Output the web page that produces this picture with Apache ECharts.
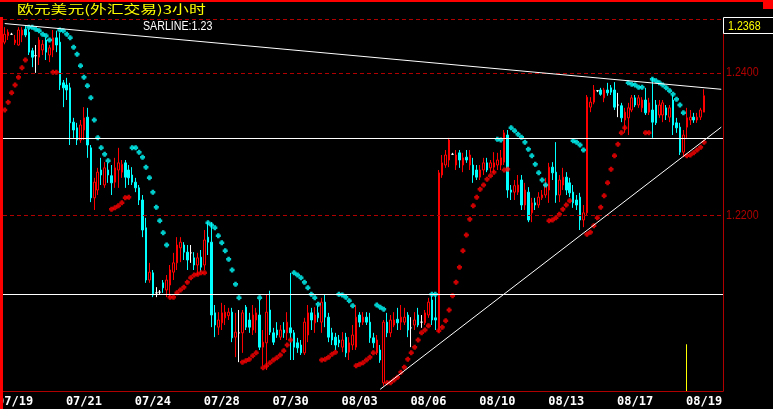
<!DOCTYPE html>
<html>
<head>
<meta charset="utf-8">
<title>欧元美元(外汇交易)3小时</title>
<script src="https://cdn.jsdelivr.net/npm/echarts@6/dist/echarts.min.js"></script>
<style>
  html, body { margin: 0; padding: 0; background: #000; }
  #chart { width: 773px; height: 409px; }
</style>
</head>
<body>
<div id="chart"></div>
<script>
// K线: [开, 收, 低, 高]
var ohlc = [
  [1.2443,1.2454,1.2440,1.2464],[1.2452,1.2457,1.2446,1.2461],[1.2454,1.2454,1.2453,1.2456],[1.2442,1.2446,1.2439,1.2453],
  [1.2439,1.2460,1.2438,1.2464],[1.2453,1.2460,1.2443,1.2464],[1.2461,1.2453,1.2450,1.2466],[1.2457,1.2429,1.2425,1.2461],
  [1.2431,1.2422,1.2408,1.2435],[1.2424,1.2424,1.2400,1.2439],[1.2422,1.2446,1.2411,1.2450],[1.2432,1.2440,1.2425,1.2446],
  [1.2446,1.2429,1.2418,1.2449],[1.2425,1.2435,1.2415,1.2439],[1.2432,1.2449,1.2422,1.2460],[1.2449,1.2439,1.2429,1.2459],
  [1.2443,1.2383,1.2376,1.2456],[1.2386,1.2379,1.2352,1.2390],[1.2383,1.2376,1.2362,1.2393],[1.2379,1.2330,1.2299,1.2386],
  [1.2331,1.2320,1.2309,1.2337],[1.2323,1.2306,1.2299,1.2330],[1.2306,1.2327,1.2302,1.2334],[1.2320,1.2337,1.2306,1.2352],
  [1.2338,1.2299,1.2281,1.2351],[1.2295,1.2225,1.2219,1.2299],[1.2225,1.2247,1.2208,1.2253],[1.2236,1.2261,1.2229,1.2267],
  [1.2264,1.2257,1.2243,1.2281],[1.2243,1.2267,1.2239,1.2275],[1.2264,1.2257,1.2246,1.2274],[1.2256,1.2246,1.2229,1.2271],
  [1.2247,1.2267,1.2239,1.2281],[1.2264,1.2274,1.2239,1.2295],[1.2261,1.2272,1.2253,1.2278],[1.2274,1.2254,1.2239,1.2278],
  [1.2264,1.2253,1.2243,1.2271],[1.2257,1.2247,1.2243,1.2268],[1.2247,1.2239,1.2233,1.2253],[1.2239,1.2222,1.2215,1.2243],
  [1.2222,1.2180,1.2170,1.2229],[1.2183,1.2110,1.2106,1.2197],[1.2110,1.2121,1.2106,1.2134],[1.2120,1.2089,1.2086,1.2124],
  [1.2092,1.2092,1.2086,1.2100],[1.2093,1.2093,1.2090,1.2096],[1.2106,1.2099,1.2092,1.2110],[1.2096,1.2110,1.2086,1.2117],
  [1.2103,1.2124,1.2086,1.2131],[1.2121,1.2134,1.2110,1.2148],[1.2134,1.2159,1.2124,1.2170],[1.2155,1.2163,1.2135,1.2170],
  [1.2159,1.2149,1.2138,1.2163],[1.2149,1.2138,1.2124,1.2159],[1.2148,1.2148,1.2134,1.2159],[1.2141,1.2131,1.2124,1.2149],
  [1.2131,1.2141,1.2117,1.2148],[1.2142,1.2128,1.2121,1.2152],[1.2131,1.2166,1.2124,1.2180],[1.2170,1.2163,1.2145,1.2191],
  [1.2163,1.2061,1.2044,1.2191],[1.2064,1.2047,1.2030,1.2075],[1.2044,1.2054,1.2033,1.2065],[1.2050,1.2064,1.2040,1.2078],
  [1.2057,1.2065,1.2047,1.2075],[1.2060,1.2065,1.2054,1.2071],[1.2065,1.2029,1.2023,1.2071],[1.2030,1.2037,1.2002,1.2064],
  [1.2036,1.2036,1.1995,1.2068],[1.2036,1.2064,1.2008,1.2068],[1.2072,1.2044,1.2040,1.2075],[1.2054,1.2044,1.2036,1.2064],
  [1.2040,1.2061,1.2033,1.2075],[1.2054,1.2064,1.2036,1.2071],[1.2061,1.2016,1.2012,1.2082],[1.2016,1.2023,1.1990,1.2040],
  [1.2022,1.2065,1.1984,1.2089],[1.2068,1.2037,1.2033,1.2095],[1.2036,1.2023,1.2019,1.2043],[1.2040,1.2033,1.2029,1.2051],
  [1.2030,1.2040,1.2026,1.2047],[1.2040,1.2036,1.2029,1.2051],[1.2036,1.2051,1.2026,1.2065],[1.2043,1.2036,1.1998,1.2120],
  [1.2036,1.2016,1.1998,1.2040],[1.2022,1.2015,1.2008,1.2029],[1.2019,1.2008,1.2005,1.2026],[1.2008,1.2051,1.2005,1.2057],
  [1.2033,1.2064,1.2023,1.2075],[1.2064,1.2054,1.2040,1.2071],[1.2050,1.2061,1.2036,1.2072],[1.2064,1.2057,1.2051,1.2074],
  [1.2051,1.2079,1.2036,1.2085],[1.2079,1.2058,1.2044,1.2089],[1.2058,1.2030,1.2023,1.2064],[1.2036,1.2026,1.2019,1.2043],
  [1.2030,1.2019,1.2012,1.2036],[1.2026,1.2022,1.2016,1.2033],[1.2016,1.2026,1.2009,1.2037],[1.2030,1.2008,1.2002,1.2036],
  [1.2009,1.2022,1.1998,1.2030],[1.2019,1.2033,1.2012,1.2047],[1.2016,1.2058,1.2012,1.2075],[1.2061,1.2051,1.2044,1.2065],
  [1.2051,1.2058,1.2047,1.2065],[1.2058,1.2051,1.2047,1.2065],[1.2051,1.2029,1.2022,1.2064],[1.2029,1.2022,1.2015,1.2036],
  [1.2008,1.2026,1.2005,1.2033],[1.2012,1.1998,1.1994,1.2019],[1.1966,1.2051,1.1962,1.2054],[1.2051,1.2036,1.2030,1.2064],
  [1.2036,1.2054,1.2030,1.2061],[1.2047,1.2054,1.2044,1.2065],[1.2055,1.2050,1.2040,1.2071],[1.2051,1.2058,1.2040,1.2075],
  [1.2051,1.2058,1.2047,1.2071],[1.2061,1.2040,1.2030,1.2065],[1.2043,1.2043,1.2016,1.2058],[1.2047,1.2054,1.2040,1.2065],
  [1.2061,1.2047,1.2044,1.2071],[1.2051,1.2051,1.2043,1.2061],[1.2050,1.2064,1.2047,1.2068],[1.2061,1.2079,1.2057,1.2085],
  [1.2082,1.2054,1.2047,1.2088],[1.2057,1.2054,1.2040,1.2088],[1.2040,1.2260,1.2037,1.2264],[1.2257,1.2274,1.2253,1.2285],
  [1.2271,1.2285,1.2267,1.2292],[1.2278,1.2306,1.2268,1.2309],[1.2286,1.2286,1.2285,1.2288],[1.2271,1.2285,1.2264,1.2292],
  [1.2288,1.2278,1.2267,1.2292],[1.2271,1.2281,1.2261,1.2288],[1.2282,1.2278,1.2274,1.2292],[1.2271,1.2285,1.2264,1.2292],
  [1.2271,1.2257,1.2246,1.2281],[1.2264,1.2254,1.2250,1.2271],[1.2254,1.2264,1.2250,1.2271],[1.2264,1.2274,1.2257,1.2281],
  [1.2274,1.2264,1.2261,1.2281],[1.2267,1.2274,1.2260,1.2278],[1.2268,1.2274,1.2260,1.2289],[1.2271,1.2278,1.2264,1.2288],
  [1.2271,1.2281,1.2264,1.2292],[1.2275,1.2316,1.2271,1.2320],[1.2313,1.2236,1.2225,1.2320],[1.2236,1.2233,1.2222,1.2243],
  [1.2233,1.2242,1.2222,1.2250],[1.2233,1.2243,1.2229,1.2257],[1.2250,1.2215,1.2208,1.2257],[1.2215,1.2236,1.2208,1.2246],
  [1.2233,1.2194,1.2191,1.2240],[1.2204,1.2218,1.2191,1.2225],[1.2218,1.2215,1.2208,1.2225],[1.2215,1.2226,1.2211,1.2233],
  [1.2225,1.2229,1.2222,1.2236],[1.2229,1.2243,1.2225,1.2253],[1.2236,1.2268,1.2218,1.2274],[1.2268,1.2260,1.2250,1.2275],
  [1.2261,1.2229,1.2218,1.2303],[1.2229,1.2250,1.2219,1.2257],[1.2243,1.2254,1.2236,1.2267],[1.2254,1.2236,1.2229,1.2261],
  [1.2246,1.2232,1.2226,1.2253],[1.2233,1.2218,1.2211,1.2243],[1.2222,1.2215,1.2208,1.2229],[1.2226,1.2194,1.2180,1.2232],
  [1.2194,1.2204,1.2184,1.2215],[1.2204,1.2366,1.2201,1.2369],[1.2352,1.2359,1.2345,1.2366],[1.2359,1.2376,1.2356,1.2383],
  [1.2375,1.2375,1.2373,1.2376],[1.2376,1.2370,1.2368,1.2379],[1.2365,1.2376,1.2359,1.2379],[1.2376,1.2372,1.2368,1.2386],
  [1.2379,1.2373,1.2369,1.2383],[1.2376,1.2352,1.2348,1.2387],[1.2355,1.2355,1.2338,1.2372],[1.2354,1.2337,1.2331,1.2358],
  [1.2334,1.2345,1.2316,1.2351],[1.2337,1.2351,1.2313,1.2358],[1.2348,1.2365,1.2345,1.2369],[1.2365,1.2355,1.2352,1.2369],
  [1.2355,1.2365,1.2351,1.2369],[1.2351,1.2362,1.2345,1.2366],[1.2362,1.2344,1.2341,1.2379],[1.2345,1.2358,1.2341,1.2365],
  [1.2348,1.2331,1.2309,1.2393],[1.2355,1.2330,1.2327,1.2362],[1.2341,1.2355,1.2337,1.2362],[1.2341,1.2358,1.2331,1.2362],
  [1.2351,1.2341,1.2334,1.2355],[1.2338,1.2351,1.2331,1.2355],[1.2362,1.2327,1.2313,1.2369],[1.2330,1.2323,1.2316,1.2337],
  [1.2324,1.2289,1.2285,1.2330],[1.2289,1.2313,1.2282,1.2320],[1.2324,1.2337,1.2309,1.2351],[1.2334,1.2338,1.2327,1.2348],
  [1.2338,1.2334,1.2330,1.2344],[1.2334,1.2338,1.2330,1.2344],[1.2338,1.2348,1.2334,1.2351],[1.2345,1.2368,1.2345,1.2377]
];

// 抛物线指标 SAR, 每根K线一个
var sar = [
  1.2348,1.2359,1.2372,1.2383,1.2394,1.2407,1.2418,
  1.2464,1.2464,1.2461,1.2459,1.2454,1.2452,1.2446,
  1.2401,1.2401,
  1.2460,1.2459,1.2454,1.2449,1.2436,1.2426,1.2410,1.2394,1.2382,1.2365,1.2334,1.2309,1.2295,1.2286,1.2277,
  1.2209,1.2211,1.2214,1.2218,1.2225,1.2226,
  1.2295,1.2295,1.2289,1.2282,1.2268,1.2253,1.2233,1.2212,1.2193,1.2176,1.2159,
  1.2086,1.2086,1.2092,1.2096,1.2100,1.2107,1.2113,1.2117,1.2118,1.2120,1.2120,
  1.2190,1.2187,1.2183,1.2172,1.2162,1.2151,1.2139,1.2124,1.2104,1.2085,
  1.1995,1.1997,1.1999,1.2004,1.2008,
  1.2085,
  1.1987,1.1990,1.1994,1.1998,1.2001,1.2005,1.2011,1.2019,1.2026,
  1.2120,1.2117,1.2113,1.2107,1.2099,1.2090,1.2085,1.2076,
  1.1998,1.1999,1.2002,1.2006,1.2009,
  1.2090,1.2089,1.2086,1.2081,1.2074,
  1.1990,1.1992,1.1994,1.1998,1.2002,1.2008,
  1.2075,1.2072,1.2069,
  1.1966,1.1966,1.1970,1.1974,1.1981,1.1988,1.1999,1.2008,1.2016,1.2026,1.2036,1.2040,1.2046,
  1.2090,1.2090,
  1.2039,1.2044,1.2053,1.2068,1.2088,1.2107,1.2128,1.2151,1.2173,1.2195,1.2214,1.2226,1.2237,1.2243,1.2251,1.2256,1.2261,
  1.2307,1.2306,
  1.2264,1.2265,
  1.2323,1.2319,1.2314,1.2310,1.2303,1.2293,1.2284,1.2272,1.2260,1.2250,1.2243,
  1.2193,1.2194,1.2197,1.2202,1.2209,1.2215,1.2221,
  1.2305,1.2303,1.2299,1.2292,
  1.2174,1.2177,1.2186,1.2197,1.2212,1.2228,1.2246,1.2265,1.2284,1.2300,1.2316,1.2323,
  1.2386,1.2384,1.2383,1.2380,1.2380,
  1.2316,1.2316,
  1.2391,1.2389,1.2386,1.2383,1.2379,1.2375,1.2370,1.2363,1.2355,1.2344,
  1.2284,1.2285,1.2288,1.2292,1.2296,1.2303
];

var tickLabels = ['07/19', '07/21', '07/24', '07/28', '07/30', '08/03', '08/06', '08/10', '08/13', '08/17', '08/19'];
var firstTickBar = 3;
var barsPerTick = 20;
var slotCount = 209; // 含右侧空白

var priceMin = 1.19546;
var priceMax = 1.24754;
var gridPrices = [1.22, 1.24];
var levelPrices = [1.2308, 1.2090]; // 水平线
var trendLines = [
  [0, 1.2469, 208, 1.2377],
  [109, 1.1957, 208, 1.2324]
];
var cursorBar = 198;
var cursorTop = 1.2020;

var RED = '#ff0000';
var CYAN = '#00ffff';
var DARKRED = '#b00000';
var YELLOW = '#ffff00';
var NARROW_FONT = '13px "Liberation Sans", sans-serif';
var NARROW_SCALE = 0.82;

var categories = [];
for (var i = 0; i < slotCount; i++) categories.push(String(i));

var candleData = ohlc.map(function (r) {
  if (r[0] === r[1]) {
    return { value: r, itemStyle: { color: '#fff', color0: '#fff', borderColor: '#fff', borderColor0: '#fff' } };
  }
  return r;
});

var sarData = sar.map(function (v, i) {
  var mid = (ohlc[i][0] + ohlc[i][1]) / 2;
  return { value: [i, v], itemStyle: { color: v < mid ? RED : CYAN } };
});

var dashed = { color: DARKRED, type: [4, 3], width: 1 };
var white = { color: '#ffffff', type: 'solid', width: 1 };

var lines = [];
gridPrices.forEach(function (p) {
  lines.push({ yAxis: p, lineStyle: dashed });
});
lines.push({ yAxis: priceMax, lineStyle: dashed });
levelPrices.forEach(function (p) {
  lines.push({ yAxis: p, lineStyle: white });
});
trendLines.forEach(function (t) {
  lines.push([
    { coord: [t[0], t[1]], lineStyle: white },
    { coord: [t[2], t[3]], lineStyle: white }
  ]);
});

var chart = echarts.init(document.getElementById('chart'));
chart.setOption({
  backgroundColor: '#000',
  animation: false,
  grid: { left: 3, right: 50, top: 19, bottom: 18, containLabel: false, outerBoundsMode: 'none' },
  xAxis: {
    type: 'category',
    data: categories,
    axisLine: { lineStyle: { color: DARKRED, width: 1 } },
    axisTick: { show: false },
    splitLine: { show: false },
    axisLabel: {
      color: '#ffffff',
      fontFamily: '"DejaVu Sans Mono", monospace',
      fontWeight: 'bold',
      fontSize: 12,
      margin: 5,
      interval: function (idx) { return idx >= firstTickBar && (idx - firstTickBar) % barsPerTick === 0; },
      formatter: function (val, idx) {
        var k = (idx - firstTickBar) / barsPerTick;
        return (k >= 0 && k % 1 === 0 && tickLabels[k]) ? tickLabels[k] : '';
      }
    }
  },
  yAxis: {
    type: 'value',
    position: 'right',
    min: priceMin,
    max: priceMax,
    axisLine: { show: true, lineStyle: { color: DARKRED, width: 1 } },
    axisTick: { show: false },
    axisLabel: { show: false },
    splitLine: { show: false }
  },
  series: [
    {
      type: 'line',
      data: [],
      z: 1,
      silent: true,
      markLine: { silent: true, symbol: 'none', precision: 5, animation: false, label: { show: false }, data: lines }
    },
    {
      type: 'candlestick',
      data: candleData,
      barWidth: 2,
      z: 2,
      itemStyle: {
        color: '#000000',
        borderColor: RED,
        color0: CYAN,
        borderColor0: CYAN,
        borderWidth: 1
      }
    },
    {
      type: 'scatter',
      data: sarData,
      z: 3,
      symbol: 'path://M1,0H3V1H4V3H3V4H1V3H0V1H1Z',
      symbolSize: 5
    }
  ]
});

// 右侧价格刻度、光标线与标题文字
var cursorX = Math.floor(chart.convertToPixel({ xAxisIndex: 0 }, cursorBar)) + 0.5;
var cursorY = chart.convertToPixel({ yAxisIndex: 0 }, cursorTop);
var bottomY = chart.convertToPixel({ yAxisIndex: 0 }, priceMin);

var graphics = [
  { type: 'line', z: 50, shape: { x1: cursorX, y1: cursorY, x2: cursorX, y2: bottomY }, style: { stroke: YELLOW, lineWidth: 1 } },
  { type: 'rect', z: 100, shape: { x: 0, y: 0, width: 773, height: 2 }, style: { fill: RED } },
  { type: 'rect', z: 100, shape: { x: 0, y: 17, width: 3, height: 392 }, style: { fill: RED } },
  { type: 'rect', z: 100, shape: { x: 763, y: 0, width: 10, height: 9 }, style: { fill: RED } },
  {
    type: 'text', z: 100, x: 17, y: 9, scaleX: 1.4,
    style: {
      text: '欧元美元(外汇交易)3小时', fill: YELLOW,
      font: '12px "Noto Sans CJK SC"', verticalAlign: 'middle', textVerticalAlign: 'middle'
    }
  },
  {
    type: 'text', z: 100, x: 143, y: 26, scaleX: NARROW_SCALE,
    style: {
      text: 'SARLINE:' + sar[sar.length - 1].toFixed(2), fill: '#ffffff',
      font: NARROW_FONT, verticalAlign: 'middle', textVerticalAlign: 'middle'
    }
  },
  { type: 'rect', z: 100, shape: { x: 723.5, y: 17.5, width: 52, height: 16 }, style: { fill: '#000', stroke: '#ffffff', lineWidth: 1 } },
  {
    type: 'text', z: 101, x: 728, y: 26, scaleX: NARROW_SCALE,
    style: {
      text: ohlc[ohlc.length - 1][1].toFixed(4), fill: YELLOW,
      font: NARROW_FONT, verticalAlign: 'middle', textVerticalAlign: 'middle'
    }
  }
];
gridPrices.forEach(function (p) {
  var py = chart.convertToPixel({ yAxisIndex: 0 }, p);
  graphics.push({
    type: 'text', z: 100, x: 726, y: py, scaleX: NARROW_SCALE,
    style: {
      text: p.toFixed(4), fill: DARKRED,
      font: NARROW_FONT, verticalAlign: 'middle', textVerticalAlign: 'middle'
    }
  });
});
chart.setOption({ graphic: graphics });
</script>
</body>
</html>
